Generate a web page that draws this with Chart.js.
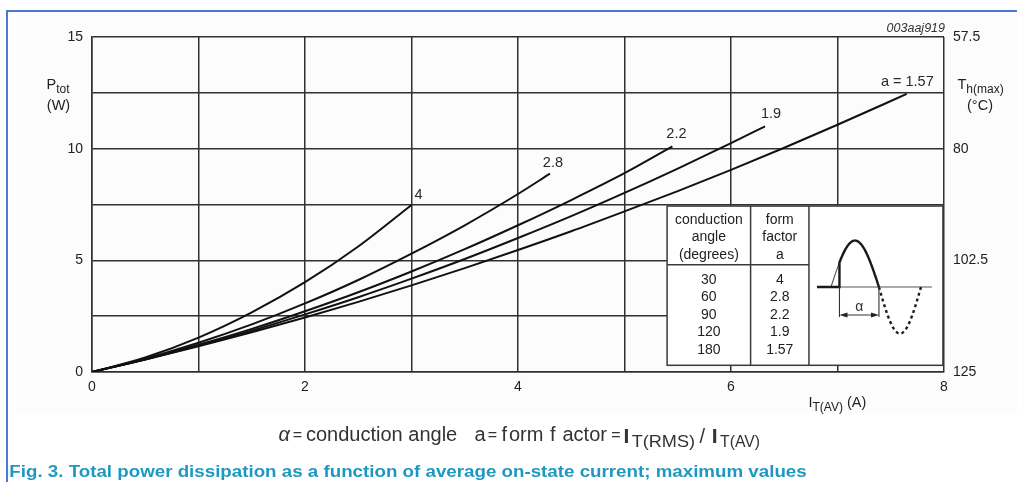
<!DOCTYPE html>
<html>
<head>
<meta charset="utf-8">
<script src="https://cdn.jsdelivr.net/npm/chart.js@4.4.1/dist/chart.umd.min.js"></script>
<style>
  html, body { margin: 0; padding: 0; background: #fff; }
  canvas { display: block; }
</style>
</head>
<body>
<canvas id="c" width="1017" height="482"></canvas>
<script>
// Average on-state current I_T(AV) (A) and total power dissipation P_tot (W),
// one pair of arrays per form factor a.
const current_a4 = [0, 0.5, 1, 1.5, 2, 2.5, 3];
const power_a4   = [0, 0.65, 1.54, 2.67, 4.02, 5.62, 7.48];

const current_a28 = [0, 0.5, 1, 1.5, 2, 2.5, 3, 3.5, 4, 4.3];
const power_a28   = [0, 0.6, 1.31, 2.13, 3.07, 4.12, 5.3, 6.57, 7.97, 8.88];

const current_a22 = [0, 0.5, 1, 1.5, 2, 2.5, 3, 3.5, 4, 4.5, 5, 5.45];
const power_a22   = [0, 0.57, 1.22, 1.93, 2.72, 3.57, 4.5, 5.5, 6.57, 7.7, 8.9, 10.1];

const current_a19 = [0, 0.5, 1, 1.5, 2, 2.5, 3, 3.5, 4, 4.5, 5, 5.5, 6, 6.32];
const power_a19   = [0, 0.56, 1.18, 1.85, 2.58, 3.35, 4.18, 5.06, 6.0, 6.98, 8.02, 9.11, 10.25, 11.0];

const current_a157 = [0, 0.5, 1, 1.5, 2, 2.5, 3, 3.5, 4, 4.5, 5, 5.5, 6, 6.5, 7, 7.65];
const power_a157   = [0, 0.56, 1.15, 1.78, 2.44, 3.14, 3.88, 4.65, 5.46, 6.3, 7.19, 8.1, 9.05, 10.04, 11.07, 12.45];

// Curve captions, in the same order as the series
const curveLabels = ['4', '2.8', '2.2', '1.9', 'a = 1.57'];

// Right-hand axis: maximum heatsink temperature at P_tot = 0, 5, 10, 15 W
const heatsinkTemps = ['125', '102.5', '80', '57.5'];

// Inset table
const tableHeadAngle = ['conduction', 'angle', '(degrees)'];
const tableHeadForm  = ['form', 'factor', 'a'];
const conductionAngles = ['30', '60', '90', '120', '180'];
const tableFormFactors = ['4', '2.8', '2.2', '1.9', '1.57'];

const captionText = 'Fig. 3. Total power dissipation as a function of average on-state current; maximum values';

const FONT = '"Liberation Sans", Arial, Helvetica, sans-serif';
const INK = '#222';
const GRID = '#303030';

const toPoints = (xs, ys) => xs.map((x, i) => ({ x, y: ys[i] }));
const seriesPoints = [
  toPoints(current_a4, power_a4),
  toPoints(current_a28, power_a28),
  toPoints(current_a22, power_a22),
  toPoints(current_a19, power_a19),
  toPoints(current_a157, power_a157)
];

function put(ctx, str, x, y, font, align, color, baseline) {
  ctx.font = font;
  ctx.textAlign = align || 'left';
  ctx.textBaseline = baseline || 'alphabetic';
  ctx.fillStyle = color || INK;
  ctx.fillText(str, x, y);
  return ctx.measureText(str).width;
}

// draw text squeezed / stretched to a given width
function fit(ctx, str, x, y, width, font, color) {
  ctx.save();
  ctx.font = font;
  ctx.textAlign = 'left';
  ctx.textBaseline = 'alphabetic';
  ctx.fillStyle = color || INK;
  const w = ctx.measureText(str).width;
  ctx.translate(x, y);
  ctx.scale(width / w, 1);
  ctx.fillText(str, 0, 0);
  ctx.restore();
}

const decorations = {
  id: 'decorations',
  beforeDraw(chart) {
    const ctx = chart.ctx;
    ctx.save();
    ctx.fillStyle = '#ffffff';
    ctx.fillRect(0, 0, chart.width, chart.height);
    ctx.fillStyle = '#fcfcfc';
    ctx.fillRect(16, 15, chart.width - 16, 398);
    ctx.restore();
  },
  afterDraw(chart) {
    const ctx = chart.ctx;
    const xs = chart.scales.x, ys = chart.scales.y;
    const area = chart.chartArea;
    ctx.save();

    // page frame
    ctx.fillStyle = '#4a79d2';
    ctx.fillRect(6, 10, chart.width - 6, 2);
    ctx.fillRect(6, 10, 2, chart.height - 10);

    // axis titles
    const big = '14.5px ' + FONT, sub = '12px ' + FONT;
    let w = put(ctx, 'P', 46.5, 89, big);
    put(ctx, 'tot', 46.5 + w, 92.5, sub);
    put(ctx, '(W)', 58.5, 109.5, big, 'center');

    w = put(ctx, 'T', 957.5, 89, big);
    put(ctx, 'h(max)', 957.5 + w, 92.5, sub);
    put(ctx, '(°C)', 980, 109.5, big, 'center');

    w = put(ctx, 'I', 808.5, 407, big);
    w += put(ctx, 'T(AV)', 808.5 + w, 410.5, sub);
    put(ctx, ' (A)', 808.5 + w, 407, big);

    put(ctx, '003aaj919', area.right + 1, 32, 'italic 12.5px ' + FONT, 'right', '#333');

    // curve captions at the end of each curve
    const lblPos = [
      { dx: 3, dy: -10, align: 'left' },
      { dx: 3, dy: -11, align: 'center' },
      { dx: 4, dy: -12, align: 'center' },
      { dx: 6, dy: -12, align: 'center' },
      { dx: 27, dy: -12, align: 'right' }
    ];
    seriesPoints.forEach((pts, i) => {
      const last = pts[pts.length - 1];
      const px = xs.getPixelForValue(last.x), py = ys.getPixelForValue(last.y);
      put(ctx, curveLabels[i], px + lblPos[i].dx, py + lblPos[i].dy, big, lblPos[i].align, '#2a2a2a', 'middle');
    });

    // inset table
    const tL = xs.getPixelForValue(5.40), tR = xs.getPixelForValue(7.99);
    const tT = ys.getPixelForValue(7.43), tB = ys.getPixelForValue(0.30);
    const c1 = xs.getPixelForValue(6.184), c2 = xs.getPixelForValue(6.732);
    const hB = ys.getPixelForValue(4.805);
    ctx.fillStyle = '#ffffff';
    ctx.fillRect(tL, tT, tR - tL, tB - tT);
    ctx.strokeStyle = '#3a3a3a';
    ctx.lineWidth = 1.5;
    ctx.strokeRect(tL, tT, tR - tL, tB - tT);
    ctx.beginPath();
    ctx.moveTo(c1, tT); ctx.lineTo(c1, tB);
    ctx.moveTo(c2, tT); ctx.lineTo(c2, tB);
    ctx.moveTo(tL, hB); ctx.lineTo(c2, hB);
    ctx.stroke();

    const col1 = (tL + c1) / 2, col2 = (c1 + c2) / 2;
    const tf = '14px ' + FONT;
    tableHeadAngle.forEach((s, i) => put(ctx, s, col1, tT + 17.5 + i * 17.5, tf, 'center'));
    tableHeadForm.forEach((s, i) => put(ctx, s, col2, tT + 17.5 + i * 17.5, tf, 'center'));
    conductionAngles.forEach((s, i) => put(ctx, s, col1, hB + 19 + i * 17.5, tf, 'center'));
    tableFormFactors.forEach((s, i) => put(ctx, s, col2, hB + 19 + i * 17.5, tf, 'center'));

    // phase-control waveform sketch
    const x0 = c2 + 22, xf = c2 + 30.5, x1 = c2 + 70, x2 = c2 + 112;
    const by = tT + 81, amp = 46.5;
    const posY = x => by - amp * Math.sin(Math.PI * (x - x0) / (x1 - x0));
    const negY = x => by + amp * Math.sin(Math.PI * (x - x1) / (x2 - x1));

    ctx.strokeStyle = '#555';
    ctx.lineWidth = 1.1;
    ctx.beginPath();
    ctx.moveTo(xf, by); ctx.lineTo(c2 + 123, by);
    ctx.moveTo(x0, by);
    for (let x = x0; x <= xf; x += 0.5) ctx.lineTo(x, posY(x));
    ctx.stroke();

    ctx.strokeStyle = '#1a1a1a';
    ctx.lineWidth = 2.4;
    ctx.beginPath();
    ctx.moveTo(c2 + 8, by); ctx.lineTo(xf, by);
    ctx.lineTo(xf, posY(xf));
    for (let x = xf; x <= x1; x += 0.5) ctx.lineTo(x, posY(x));
    ctx.stroke();

    ctx.setLineDash([3, 3]);
    ctx.beginPath();
    ctx.moveTo(x1, by);
    for (let x = x1; x <= x2; x += 0.5) ctx.lineTo(x, negY(x));
    ctx.stroke();
    ctx.setLineDash([]);

    // conduction angle marker
    ctx.strokeStyle = '#333';
    ctx.lineWidth = 1.1;
    ctx.beginPath();
    ctx.moveTo(xf, by); ctx.lineTo(xf, by + 30);
    ctx.moveTo(x1, by); ctx.lineTo(x1, by + 30);
    ctx.moveTo(xf + 6, by + 28); ctx.lineTo(x1 - 6, by + 28);
    ctx.stroke();
    ctx.fillStyle = '#222';
    ctx.beginPath();
    ctx.moveTo(xf, by + 28); ctx.lineTo(xf + 8, by + 25.5); ctx.lineTo(xf + 8, by + 30.5); ctx.closePath();
    ctx.moveTo(x1, by + 28); ctx.lineTo(x1 - 8, by + 25.5); ctx.lineTo(x1 - 8, by + 30.5); ctx.closePath();
    ctx.fill();
    put(ctx, 'α', (xf + x1) / 2, by + 20, '14px ' + FONT, 'center', '#333', 'middle');

    // definition line below the axis
    const ff = '20px ' + FONT, fe = '16px ' + FONT, fi = 'bold 21px ' + FONT, fs = '17px ' + FONT, fc = '#333';
    put(ctx, 'α', 278.5, 441, 'italic ' + ff, 'left', fc);
    put(ctx, '=', 297.3, 440, fe, 'center', fc);
    put(ctx, 'conduction angle', 306, 441, ff, 'left', fc);
    put(ctx, 'a', 474.5, 441, ff, 'left', fc);
    put(ctx, '=', 492.3, 440, fe, 'center', fc);
    put(ctx, 'f', 501.5, 441, ff, 'left', fc);
    put(ctx, 'orm', 509, 441, ff, 'left', fc);
    put(ctx, 'f', 550, 441, ff, 'left', fc);
    put(ctx, 'actor', 562.5, 441, ff, 'left', fc);
    put(ctx, '=', 615.8, 440, fe, 'center', fc);
    put(ctx, 'I', 623.5, 442.5, fi, 'left', fc);
    fit(ctx, 'T(RMS)', 631.7, 447, 63.3, fs, fc);
    put(ctx, '/', 699.5, 443, ff, 'left', fc);
    put(ctx, 'I', 711.8, 442.5, fi, 'left', fc);
    fit(ctx, 'T(AV)', 720, 447, 40, fs, fc);

    // figure caption
    fit(ctx, captionText, 9.3, 476.5, 797.4, 'bold 16px ' + FONT, '#1f98c1');

    ctx.restore();
  }
};

const tickFont = { family: FONT, size: 14 };

new Chart(document.getElementById('c'), {
  type: 'scatter',
  data: {
    datasets: seriesPoints.map((pts, i) => ({
      label: 'a = ' + tableFormFactors[i],
      data: pts,
      showLine: true,
      borderColor: '#111',
      borderWidth: 2,
      pointRadius: 0,
      cubicInterpolationMode: 'monotone',
      yAxisID: 'y'
    }))
  },
  options: {
    responsive: false,
    animation: false,
    devicePixelRatio: 1,
    layout: { padding: { left: 0, right: 0, top: 37, bottom: 0 } },
    plugins: { legend: { display: false }, tooltip: { enabled: false } },
    scales: {
      x: {
        type: 'linear', min: 0, max: 8,
        afterFit(s) { s.height = 110; },
        ticks: {
          stepSize: 1, autoSkip: false, padding: 7, color: INK, font: tickFont, maxRotation: 0,
          callback: v => (v % 2 === 0 ? String(v) : '')
        },
        grid: { color: GRID, lineWidth: 1.5, drawTicks: false },
        border: { display: true, color: GRID, width: 1.5 }
      },
      y: {
        type: 'linear', position: 'left', min: 0, max: 15,
        afterFit(s) { s.width = 92; },
        ticks: {
          stepSize: 2.5, autoSkip: false, padding: 9, color: INK, font: tickFont,
          callback: v => (v % 5 === 0 ? String(v) : '')
        },
        grid: { color: GRID, lineWidth: 1.5, drawTicks: false },
        border: { display: true, color: GRID, width: 1.5 }
      },
      y2: {
        type: 'linear', position: 'right', min: 0, max: 15,
        afterFit(s) { s.width = 73; },
        ticks: {
          stepSize: 5, autoSkip: false, padding: 9, color: INK, font: tickFont,
          callback: v => heatsinkTemps[Math.round(v / 5)]
        },
        grid: { display: false, drawTicks: false },
        border: { display: false }
      }
    }
  },
  plugins: [decorations]
});
</script>
</body>
</html>
